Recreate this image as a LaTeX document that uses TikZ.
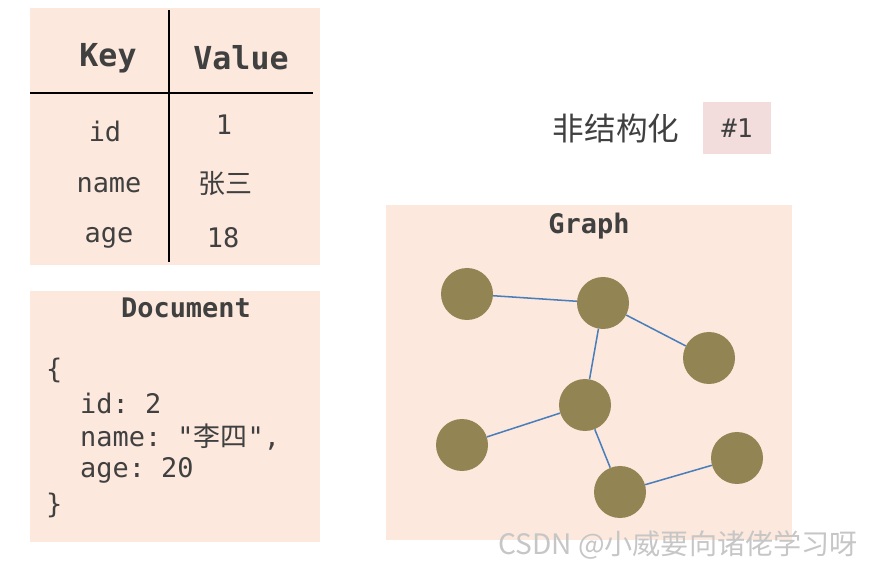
\documentclass[tikz,border=0pt]{standalone}
\usepackage{fontspec}
\setmonofont{DejaVu Sans Mono}
\newfontfamily\cjk{Noto Sans CJK SC}
\begin{document}
\begin{tikzpicture}[x=0.03cm,y=-0.03cm,
  panel/.style={fill=boxfill,draw=none},
  mono/.style={font=\ttfamily\fontsize{23}{26}\selectfont,text=txt},
  hdr/.style={font=\ttfamily\bfseries\fontsize{27}{30}\selectfont,text=txt},
  ttl/.style={font=\ttfamily\bfseries\fontsize{23}{26}\selectfont,text=txt},
  vtx/.style={circle,fill=olive2,minimum size=52*0.03cm,inner sep=0pt},
  edge/.style={draw=edgeblue,line width=1.3pt}]
\definecolor{boxfill}{HTML}{FCE8DC}
\definecolor{txt}{HTML}{404040}
\definecolor{olive2}{HTML}{938453}
\definecolor{edgeblue}{HTML}{4A7EBB}
\definecolor{tagfill}{HTML}{F2DCDC}
\useasboundingbox (0,0) rectangle (883,568);
\fill[boxfill] (30,8) rectangle (320,265);
\coordinate (v1) at (169,10); \coordinate (v2) at (169,262);
\coordinate (h1) at (30,93); \coordinate (h2) at (313,93);
\draw[line width=1.2pt] (v1) -- (v2);
\draw[line width=1.2pt] (h1) -- (h2);
\node[hdr] (k) at (108,58) {Key};
\node[hdr] (v) at (241,58) {Value};
\node[mono] (a1) at (105,131) {id};
\node[mono] (b1) at (224,125) {1};
\node[mono] (a2) at (109,185) {name};
\node[font=\cjk\fontsize{23}{26}\selectfont,text=txt] (b2) at (225,184) {张三};
\node[mono] (a3) at (109,238) {age};
\node[mono] (b3) at (223,238) {18};
\fill[boxfill] (30,291) rectangle (320,542);
\node[ttl] (dt) at (186,308) {Document};
\node[mono,anchor=west] (d1) at (42,370) {\{};
\node[mono,anchor=west] (d2) at (76,403) {id: 2};
\node[mono,anchor=west] (d3) at (76,437) {name: "{\cjk 李四}",};
\node[mono,anchor=west] (d4) at (76,470) {age: 20};
\node[mono,anchor=west] (d5) at (42,505) {\}};
\fill[boxfill] (386,205) rectangle (792,540);
\node[ttl] (gt) at (589,226) {Graph};
\node[vtx] (n1) at (467,294) {};
\node[vtx] (n2) at (603,303) {};
\node[vtx] (n3) at (709,358) {};
\node[vtx] (n4) at (585,405) {};
\node[vtx] (n5) at (462,445) {};
\node[vtx] (n6) at (620,492) {};
\node[vtx] (n7) at (737,458) {};
\draw[edge] (n1)--(n2); \draw[edge] (n2)--(n4); \draw[edge] (n2)--(n3);
\draw[edge] (n4)--(n5); \draw[edge] (n4)--(n6); \draw[edge] (n6)--(n7);
\node[font=\cjk\fontsize{27}{30}\selectfont,text=txt] (u) at (616,128) {非结构化};
\fill[tagfill] (703,102) rectangle (771,154);
\node[font=\ttfamily\fontsize{22}{25}\selectfont,text=txt] (tag) at (737,128) {\#1};
\node[font=\cjk\fontsize{24}{27}\selectfont,text=gray!45] (wm) at (678,545) {CSDN @小威要向诸佬学习呀};
\end{tikzpicture}
\end{document}
